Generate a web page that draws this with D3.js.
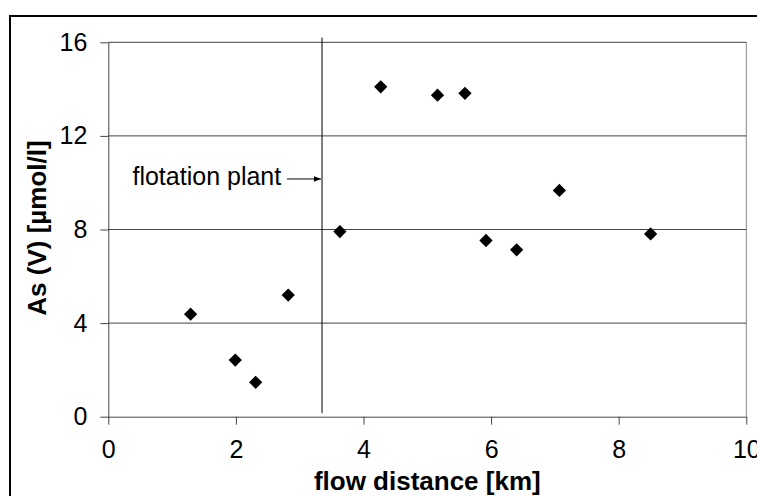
<!DOCTYPE html>
<html>
<head>
<meta charset="utf-8">
<script src="https://cdn.jsdelivr.net/npm/d3@7"></script>
<style>
  body { margin: 0; background: #fff; }
  text { font-family: "Liberation Sans", Arial, sans-serif; fill: #000; }
</style>
</head>
<body>
<svg id="chart" width="757" height="496"></svg>
<script>
// sample points
var distance = [1.29, 1.99, 2.31, 2.82, 3.63, 4.27, 5.16, 5.59, 5.92, 6.40, 7.07, 8.50];
var arsenic = [4.38, 2.42, 1.47, 5.20, 7.91, 14.10, 13.74, 13.82, 7.53, 7.13, 9.67, 7.81];
var xTicks = [0, 2, 4, 6, 8, 10];
var yTicks = [0, 4, 8, 12, 16];
var plantX = 3.35;

var svg = d3.select("#chart");
var margin = {left: 108.3, right: 746.3, top: 42.3, bottom: 416.7};

var x = d3.scaleLinear().domain([0, 10]).range([margin.left, margin.right]);
var y = d3.scaleLinear().domain([0, 16]).range([margin.bottom, margin.top]);

// outer frame, runs off the right and bottom edge
svg.append("rect")
  .attr("x", 10).attr("y", 16).attr("width", 800).attr("height", 600)
  .attr("fill", "none").attr("stroke", "#000").attr("stroke-width", 2);

// plot area right edge
svg.append("line")
  .attr("x1", x(10)).attr("x2", x(10)).attr("y1", y(16)).attr("y2", y(0))
  .attr("stroke", "#888").attr("stroke-width", 1);

// horizontal gridlines
svg.append("g").selectAll("line").data(yTicks.filter(function (d) { return d > 0; }))
  .enter().append("line")
  .attr("x1", x(0)).attr("x2", x(10))
  .attr("y1", function (d) { return y(d); }).attr("y2", function (d) { return y(d); })
  .attr("stroke", "#444").attr("stroke-width", 1);

var xAxis = svg.append("g")
  .attr("transform", "translate(0," + y(0) + ")")
  .call(d3.axisBottom(x).tickValues(xTicks).tickSize(8).tickSizeOuter(0).tickPadding(16));
xAxis.select(".domain").attr("stroke", "#444");
xAxis.selectAll(".tick line").attr("stroke", "#444");
xAxis.selectAll("text").style("font-size", "25px").attr("fill", "#000");

var yAxis = svg.append("g")
  .attr("transform", "translate(" + x(0) + ",0)")
  .call(d3.axisLeft(y).tickValues(yTicks).tickSize(8).tickSizeOuter(0).tickPadding(13));
yAxis.select(".domain").attr("stroke", "#444");
yAxis.selectAll(".tick line").attr("stroke", "#444");
yAxis.selectAll("text").style("font-size", "25px").attr("fill", "#000");

// flotation plant marker
svg.append("line")
  .attr("x1", x(plantX)).attr("x2", x(plantX))
  .attr("y1", y(16.2)).attr("y2", y(0.15))
  .attr("stroke", "#000").attr("stroke-width", 1);

svg.append("defs").append("marker")
  .attr("id", "arrow").attr("viewBox", "0 0 10 10")
  .attr("refX", 10).attr("refY", 5)
  .attr("markerWidth", 7).attr("markerHeight", 7)
  .attr("markerUnits", "userSpaceOnUse")
  .attr("orient", "auto")
  .append("path").attr("d", "M0,1L10,5L0,9Z").attr("fill", "#000");

svg.append("line")
  .attr("x1", x(2.80)).attr("x2", x(plantX) - 1)
  .attr("y1", y(10.16)).attr("y2", y(10.16))
  .attr("stroke", "#000").attr("stroke-width", 1)
  .attr("marker-end", "url(#arrow)");

svg.append("text")
  .attr("x", x(2.71)).attr("y", y(9.9))
  .attr("text-anchor", "end")
  .style("font-size", "25px")
  .text("flotation plant");

// points
var diamond = d3.symbol().type(d3.symbolSquare).size(88);
svg.append("g").selectAll("path").data(distance)
  .enter().append("path")
  .attr("d", diamond)
  .attr("transform", function (d, i) {
    return "translate(" + x(d) + "," + y(arsenic[i]) + ") rotate(45)";
  })
  .attr("fill", "#000");

// axis titles
svg.append("text")
  .attr("x", (margin.left + margin.right) / 2).attr("y", 490)
  .attr("text-anchor", "middle")
  .style("font-size", "26px").style("font-weight", "bold")
  .text("flow distance [km]");

svg.append("text")
  .attr("transform", "translate(46," + 228 + ") rotate(-90)")
  .attr("text-anchor", "middle")
  .style("font-size", "26px").style("font-weight", "bold")
  .text("As (V) [µmol/l]");
</script>
</body>
</html>
